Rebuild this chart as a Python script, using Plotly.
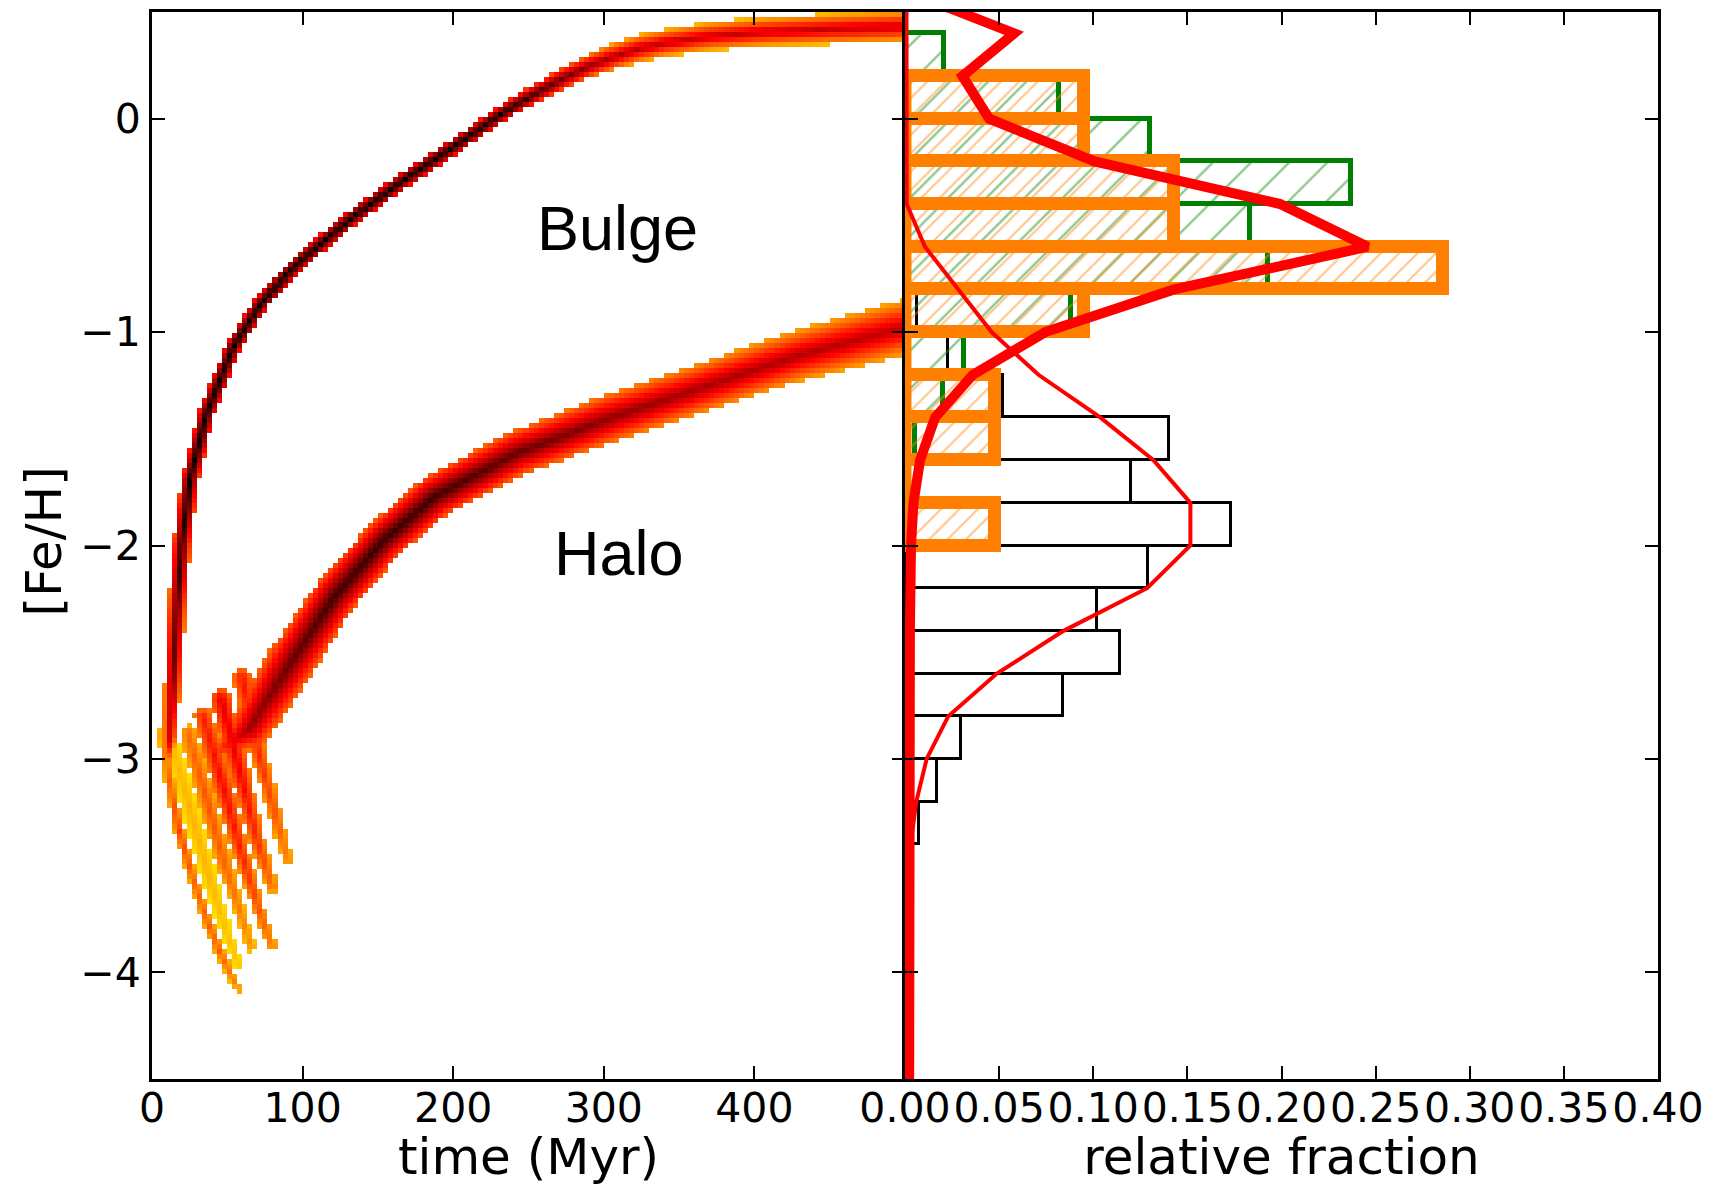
import numpy as np
import plotly.graph_objects as go

# ---------------------------------------------------------------------------
# Right panel: metallicity distribution functions (0.2 dex bins)
# ---------------------------------------------------------------------------
BIN_WIDTH = 0.2

# simulated halo stars (black outline histogram)
halo_bin_centres = [-0.9, -1.1, -1.3, -1.5, -1.7, -1.9, -2.1, -2.3, -2.5, -2.7, -2.9, -3.1, -3.3]
halo_fraction = [0.0065, 0.023, 0.052, 0.140, 0.120, 0.173, 0.129, 0.102, 0.114, 0.084, 0.030, 0.017, 0.0075]

# simulated bulge stars (green hatched histogram)
bulge_bin_centres = [0.3, 0.1, -0.1, -0.3, -0.5, -0.7, -0.9, -1.1, -1.3, -1.5]
bulge_fraction = [0.0206, 0.0817, 0.130, 0.237, 0.183, 0.193, 0.0883, 0.0316, 0.0204, 0.0053]

# observed stars (orange hatched histogram), counts per bin
obs_bin_centres = [0.1, -0.1, -0.3, -0.5, -0.7, -0.9, -1.1, -1.3, -1.5, -1.7, -1.9]
obs_counts = [2, 2, 3, 3, 6, 2, 0, 1, 1, 0, 1]

# model distributions (thin red: halo, thick red: bulge)
halo_model_feh = [0.5, 0.0, -0.4, -0.6, -0.8, -1.0, -1.2, -1.4, -1.6, -1.8, -2.0, -2.2,
                  -2.4, -2.6, -2.8, -3.0, -3.2, -3.4, -3.6, -4.6]
halo_model_frac = [0.0008, 0.0008, 0.0009, 0.0106, 0.0284, 0.046, 0.0709, 0.1037, 0.132, 0.1516,
                   0.1516, 0.1286, 0.0842, 0.0488, 0.023, 0.0115, 0.006, 0.003, 0.0022, 0.0022]

bulge_model_feh = [0.6, 0.4, 0.2, 0.0, -0.2, -0.4, -0.6, -0.8, -1.0, -1.2, -1.4, -1.6,
                   -1.8, -2.0, -2.4, -3.0, -4.6]
bulge_model_frac = [0.0, 0.058, 0.0305, 0.0447, 0.1007, 0.1993, 0.2458, 0.143, 0.0745, 0.036,
                    0.016, 0.008, 0.0045, 0.0032, 0.0026, 0.0023, 0.0022]

frac_ticks = [0.0, 0.05, 0.10, 0.15, 0.20, 0.25, 0.30, 0.35, 0.40]
time_ticks = [0, 100, 200, 300, 400]
feh_ticks = [-4, -3, -2, -1, 0]

# ---------------------------------------------------------------------------
# Left panel: star-formation tracks in the time-[Fe/H] plane.
# Each ridge: time (Myr), [Fe/H], half-thickness (px), core level, edge level
# (levels run 0..1 along the colour map)
# ---------------------------------------------------------------------------
bulge_t = [10, 12, 14, 16.4, 19.8, 25.3, 36.4, 54, 72, 88, 99, 132, 165, 199, 232, 254,
           272, 290, 305, 322, 339, 370, 405, 450, 494, 505]
bulge_feh = [-3.0, -2.9, -2.63, -2.32, -2.00, -1.69, -1.38, -1.07, -0.87, -0.74, -0.665, -0.47,
             -0.30, -0.14, 0.02, 0.115, 0.185, 0.245, 0.285, 0.325, 0.352, 0.385, 0.405, 0.42,
             0.43, 0.432]
bulge_hw = [5, 7, 8.5, 9, 9, 8.5, 8, 7.5, 7.5, 7.5, 7.5, 7.5, 7.5, 7.5, 7.5, 8.5,
            10, 11, 12.5, 13.5, 14, 14.5, 15, 15.5, 16, 16]
bulge_core = [0.55, 0.72, 0.85, 0.9, 0.95, 1.0, 1.0, 1.0, 1.0, 1.0, 1.0, 1.0, 1.0, 1.0, 0.98, 0.92,
              0.85, 0.8, 0.76, 0.74, 0.73, 0.72, 0.72, 0.72, 0.72, 0.72]
bulge_edge = [0.35, 0.4, 0.45, 0.45, 0.5, 0.55, 0.6, 0.62, 0.62, 0.62, 0.62, 0.62, 0.62, 0.62,
              0.6, 0.55, 0.5, 0.45, 0.4, 0.38, 0.36, 0.35, 0.35, 0.35, 0.35, 0.35]

halo_t = [38, 50, 65, 92, 121, 154, 188, 243, 305, 361, 427, 494, 505]
halo_feh = [-2.98, -2.94, -2.86, -2.55, -2.24, -1.975, -1.77, -1.565, -1.40, -1.27, -1.113,
            -0.987, -0.975]
halo_hw = [10, 16, 22, 24, 22, 21, 21.5, 22, 23.5, 24, 25, 28, 28]
halo_core = [0.5, 0.62, 0.78, 0.86, 0.92, 0.93, 0.92, 0.86, 0.8, 0.77, 0.75, 0.73, 0.73]
halo_edge = [0.35, 0.4, 0.45, 0.48, 0.5, 0.5, 0.5, 0.48, 0.45, 0.42, 0.4, 0.38, 0.38]

# streaks of the earliest, metal-poor stars
arc_t = [7, 12, 18, 27, 36, 45, 54, 58]
arc_feh = [-2.88, -3.12, -3.33, -3.55, -3.74, -3.9, -4.03, -4.08]
arc_hw = [5, 5, 5, 5, 5, 5, 4.5, 4]
arc_core = [0.45, 0.5, 0.55, 0.5, 0.5, 0.5, 0.45, 0.42]
arc_edge = [0.35, 0.38, 0.4, 0.38, 0.38, 0.38, 0.36, 0.35]

fan1_t = [14, 26, 38, 50, 58]
fan1_feh = [-2.95, -3.25, -3.55, -3.82, -3.97]
fan1_hw = [8, 9, 8, 6, 5]
fan1_core = [0.36, 0.37, 0.37, 0.35, 0.34]
fan1_edge = [0.3, 0.3, 0.3, 0.3, 0.3]

fan2_t = [24, 36, 48, 58, 66]
fan2_feh = [-2.88, -3.18, -3.48, -3.7, -3.88]
fan2_hw = [8, 9, 8, 6, 5]
fan2_core = [0.48, 0.52, 0.5, 0.46, 0.42]
fan2_edge = [0.38, 0.38, 0.38, 0.36, 0.35]

fan3_t = [34, 47, 60, 72, 80]
fan3_feh = [-2.8, -3.12, -3.45, -3.72, -3.88]
fan3_hw = [9, 10, 8, 6, 5]
fan3_core = [0.6, 0.64, 0.6, 0.52, 0.45]
fan3_edge = [0.45, 0.45, 0.42, 0.4, 0.38]

fan4_t = [46, 58, 70, 80]
fan4_feh = [-2.72, -3.05, -3.38, -3.6]
fan4_hw = [10, 10, 8, 6]
fan4_core = [0.68, 0.66, 0.58, 0.48]
fan4_edge = [0.48, 0.46, 0.42, 0.38]

fan5_t = [60, 72, 84, 90]
fan5_feh = [-2.62, -3.0, -3.32, -3.48]
fan5_hw = [10, 8, 6, 5]
fan5_core = [0.62, 0.58, 0.5, 0.44]
fan5_edge = [0.45, 0.42, 0.4, 0.38]

tracks = [
    (bulge_t, bulge_feh, bulge_hw, bulge_core, bulge_edge),
    (halo_t, halo_feh, halo_hw, halo_core, halo_edge),
    (arc_t, arc_feh, arc_hw, arc_core, arc_edge),
    (fan1_t, fan1_feh, fan1_hw, fan1_core, fan1_edge),
    (fan2_t, fan2_feh, fan2_hw, fan2_core, fan2_edge),
    (fan3_t, fan3_feh, fan3_hw, fan3_core, fan3_edge),
    (fan4_t, fan4_feh, fan4_hw, fan4_core, fan4_edge),
    (fan5_t, fan5_feh, fan5_hw, fan5_core, fan5_edge),
]

# ---------------------------------------------------------------------------
# density grid for the left panel
# ---------------------------------------------------------------------------
T_RANGE = (0, 500)
FEH_RANGE = (-4.5, 0.5)
PX_PER_MYR = 753 / 500.0
PX_PER_DEX = 1067 / 5.0
N_T, N_FEH = 150, 213
t_c = np.linspace(T_RANGE[0], T_RANGE[1], N_T + 1)
t_c = 0.5 * (t_c[:-1] + t_c[1:])
f_c = np.linspace(FEH_RANGE[0], FEH_RANGE[1], N_FEH + 1)
f_c = 0.5 * (f_c[:-1] + f_c[1:])
TT, FF = np.meshgrid(t_c, f_c)
GX, GY = TT * PX_PER_MYR, FF * PX_PER_DEX


def ridge_density(t, feh, hw, core, edge):
    """Band following a polyline ridge: level falls from core to edge across half-width hw."""
    px = np.asarray(t, float) * PX_PER_MYR
    py = np.asarray(feh, float) * PX_PER_DEX
    hw, core, edge = (np.asarray(a, float) for a in (hw, core, edge))
    best_d = np.full(GX.shape, np.inf)
    best_hw = np.ones(GX.shape)
    best_c = np.zeros(GX.shape)
    best_e = np.zeros(GX.shape)
    for i in range(len(px) - 1):
        ax, ay = px[i], py[i]
        bx, by = px[i + 1] - ax, py[i + 1] - ay
        u = ((GX - ax) * bx + (GY - ay) * by) / (bx * bx + by * by)
        u = np.clip(u, 0.0, 1.0)
        d = np.hypot(GX - (ax + u * bx), GY - (ay + u * by))
        m = d < best_d
        best_d[m] = d[m]
        best_hw[m] = (hw[i] + u * (hw[i + 1] - hw[i]))[m]
        best_c[m] = (core[i] + u * (core[i + 1] - core[i]))[m]
        best_e[m] = (edge[i] + u * (edge[i + 1] - edge[i]))[m]
    frac = 1.0 - best_d / best_hw
    return np.where(frac > 0, best_e + (best_c - best_e) * frac, np.nan)


density = np.full(GX.shape, np.nan)
for tr in tracks:
    density = np.fmax(density, ridge_density(*tr))

# reversed "hot" colour map: white -> yellow -> red -> black
hot_r = [[0.0, "#ffffff"], [0.254, "#ffff00"], [0.635, "#ff0000"], [1.0, "#000000"]]

fig = go.Figure()

fig.add_trace(go.Heatmap(
    x=t_c, y=f_c, z=density, colorscale=hot_r, zmin=0, zmax=1,
    showscale=False, hoverinfo="skip", xaxis="x", yaxis="y",
))

# halo histogram (open black bars)
fig.add_trace(go.Bar(
    y=halo_bin_centres, x=halo_fraction, width=BIN_WIDTH, orientation="h",
    marker=dict(color="rgba(0,0,0,0)", line=dict(color="black", width=3)),
    xaxis="x2", yaxis="y2", hoverinfo="skip",
))

# bulge histogram (green hatched)
fig.add_trace(go.Bar(
    y=bulge_bin_centres, x=bulge_fraction, width=BIN_WIDTH, orientation="h",
    marker=dict(
        color="rgba(0,0,0,0)",
        line=dict(color="#008000", width=5),
        pattern=dict(shape="/", fgcolor="#1f8f1f", bgcolor="rgba(0,0,0,0)",
                     size=27, solidity=0.09, fillmode="overlay"),
    ),
    xaxis="x2", yaxis="y2", hoverinfo="skip",
))

# observed histogram (orange hatched, heavy outline)
obs_total = float(sum(obs_counts))
obs_fraction = [c / obs_total for c in obs_counts]
ORANGE = "#ff8000"
obs_top = max(obs_bin_centres) + BIN_WIDTH / 2
obs_bottom = min(obs_bin_centres) - BIN_WIDTH / 2
fig.add_trace(go.Scatter(
    x=[0, 0], y=[obs_top, obs_bottom], mode="lines",
    line=dict(color=ORANGE, width=13), xaxis="x2", yaxis="y2", hoverinfo="skip",
))
fig.add_trace(go.Bar(
    y=obs_bin_centres, x=obs_fraction, width=BIN_WIDTH, orientation="h",
    marker=dict(
        color="rgba(0,0,0,0)",
        line=dict(color=ORANGE, width=13),
        pattern=dict(shape="/", fgcolor="#ff8a14", bgcolor="rgba(0,0,0,0)",
                     size=13, solidity=0.16, fillmode="overlay"),
    ),
    xaxis="x2", yaxis="y2", hoverinfo="skip",
))

# model curves
fig.add_trace(go.Scatter(
    x=bulge_model_frac, y=bulge_model_feh, mode="lines",
    line=dict(color="#ff0000", width=10), xaxis="x2", yaxis="y2", hoverinfo="skip",
))
fig.add_trace(go.Scatter(
    x=halo_model_frac, y=halo_model_feh, mode="lines",
    line=dict(color="#ff0000", width=4), xaxis="x2", yaxis="y2", hoverinfo="skip",
))

TICK_FONT = dict(family="DejaVu Sans", size=41, color="black")
TITLE_FONT = dict(family="DejaVu Sans", size=50, color="black")
axis_common = dict(
    showline=True, linewidth=3, linecolor="black", mirror="allticks",
    ticks="inside", ticklen=13, tickwidth=1.5, tickcolor="black",
    showgrid=False, zeroline=False, tickfont=TICK_FONT, tickangle=0,
    automargin=False, ticklabeloverflow="allow",
)

fig.update_layout(
    width=1712, height=1186,
    margin=dict(l=152, r=54, t=12, b=107, autoexpand=False),
    paper_bgcolor="white", plot_bgcolor="white",
    showlegend=False, barmode="overlay", bargap=0,
    xaxis=dict(
        domain=[0, 0.5], range=list(T_RANGE), anchor="y",
        tickvals=time_ticks, ticktext=[str(v) for v in time_ticks],
        ticklabelstandoff=-9,
        title=dict(text="time (Myr)", font=TITLE_FONT, standoff=18),
        **axis_common,
    ),
    xaxis2=dict(
        domain=[0.5, 1], range=[0, 0.4], anchor="y2",
        tickvals=frac_ticks, ticktext=["%.2f" % v for v in frac_ticks],
        ticklabelstandoff=-9,
        title=dict(text="relative fraction", font=TITLE_FONT, standoff=18),
        **axis_common,
    ),
    yaxis=dict(
        domain=[0, 1], range=list(FEH_RANGE), anchor="x",
        tickvals=feh_ticks, ticktext=[("\u2212%d" % -v) if v < 0 else str(v) for v in feh_ticks],
        **axis_common,
    ),
    yaxis2=dict(
        domain=[0, 1], range=list(FEH_RANGE), anchor="x2", matches="y",
        tickvals=feh_ticks, showticklabels=False,
        **axis_common,
    ),
    annotations=[
        dict(x=-0.0717, y=0.5037, xref="paper", yref="paper", text="[Fe/H]",
             showarrow=False, textangle=-90, xanchor="center", yanchor="middle",
             font=TITLE_FONT),
        dict(x=309, y=-0.511, xref="x", yref="y", text="Bulge", showarrow=False,
             xanchor="center", yanchor="middle",
             font=dict(family="Liberation Sans", size=63, color="black")),
        dict(x=310, y=-2.033, xref="x", yref="y", text="Halo", showarrow=False,
             xanchor="center", yanchor="middle",
             font=dict(family="Liberation Sans", size=63, color="black")),
    ],
)

fig.write_html("out.html")
